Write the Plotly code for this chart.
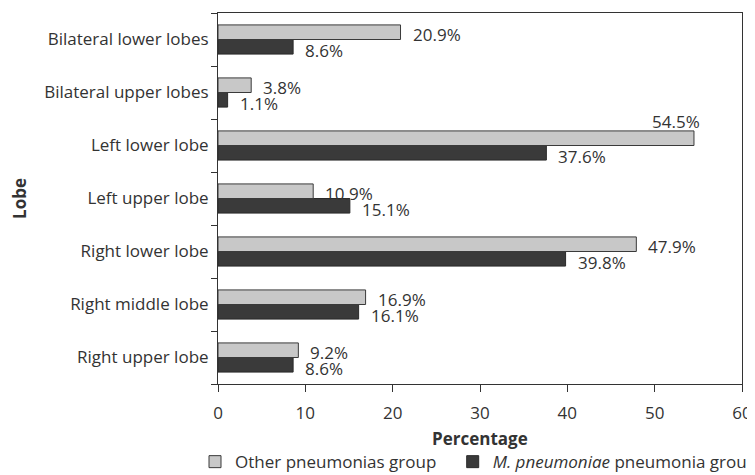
import plotly.graph_objects as go

categories = ["Right upper lobe", "Right middle lobe", "Right lower lobe", "Left upper lobe",
              "Left lower lobe", "Bilateral upper lobes", "Bilateral lower lobes"]
other_vals = [9.2, 16.9, 47.9, 10.9, 54.5, 3.8, 20.9]
mp_vals = [8.6, 16.1, 39.8, 15.1, 37.6, 1.1, 8.6]
x_ticks = [0, 10, 20, 30, 40, 50, 60]

FONT = "Open Sans"
FS = 17
TXT = "#333333"

fig = go.Figure()
fig.add_trace(go.Bar(
    y=categories, x=mp_vals, orientation="h",
    name="<i>M. pneumoniae</i> pneumonia group",
    marker=dict(color="#3a3a3a", line=dict(color="#2a2a2a", width=1)),
    legend="legend2",
))
fig.add_trace(go.Bar(
    y=categories, x=other_vals, orientation="h",
    name="Other pneumonias group",
    marker=dict(color="#c8c8c8", line=dict(color="#3a3a3a", width=1)),
    legend="legend",
))

annotations = []
vmax = max(other_vals)
for cat, v in zip(categories, other_vals):
    if v == vmax:
        annotations.append(dict(x=v, y=cat, text=f"{v}%", showarrow=False, xanchor="right",
                                yanchor="middle", xshift=8, yshift=24, font=dict(size=FS, color=TXT, family=FONT)))
    else:
        annotations.append(dict(x=v, y=cat, text=f"{v}%", showarrow=False, xanchor="left",
                                yanchor="middle", xshift=10, yshift=5, font=dict(size=FS, color=TXT, family=FONT)))
for cat, v in zip(categories, mp_vals):
    annotations.append(dict(x=v, y=cat, text=f"{v}%", showarrow=False, xanchor="left",
                            yanchor="middle", xshift=10, yshift=-10.5, font=dict(size=FS, color=TXT, family=FONT)))
# x-axis title
annotations.append(dict(x=0.5, y=-0.1456, xref="paper", yref="paper", text="<b>Percentage</b>",
                        showarrow=False, xanchor="center", yanchor="middle",
                        font=dict(size=FS, color=TXT, family=FONT)))

legend_common = dict(orientation="h", xref="container", yref="container", yanchor="middle", y=0.044,
                     font=dict(size=FS, color=TXT, family=FONT), bgcolor="rgba(0,0,0,0)")
fig.update_layout(
    width=755, height=475,
    margin=dict(l=210, r=21, t=5, b=99, autoexpand=False),
    paper_bgcolor="white", plot_bgcolor="white",
    barmode="group", bargap=0.45, bargroupgap=0,
    font=dict(family=FONT, size=FS, color=TXT),
    annotations=annotations,
    legend=dict(x=0.2477, xanchor="left", **legend_common),
    legend2=dict(x=0.589, xanchor="left", **legend_common),
    showlegend=True,
)
fig.update_xaxes(range=[0, 60], tickvals=x_ticks, ticks="outside", ticklen=7, tickcolor="#333",
                 showline=True, linecolor="#333", linewidth=1, mirror=True, showgrid=False,
                 zeroline=False, ticklabelstandoff=7, automargin=False)
fig.update_yaxes(categoryorder="array", categoryarray=categories, tickson="boundaries",
                 ticks="outside", ticklen=6, tickcolor="#333", showline=True, linecolor="#333",
                 linewidth=1, mirror=True, showgrid=False, ticklabelstandoff=5, automargin=False,
                 title=dict(text="<b>Lobe</b>", standoff=18, font=dict(size=FS)))

fig.write_html("out.html")
